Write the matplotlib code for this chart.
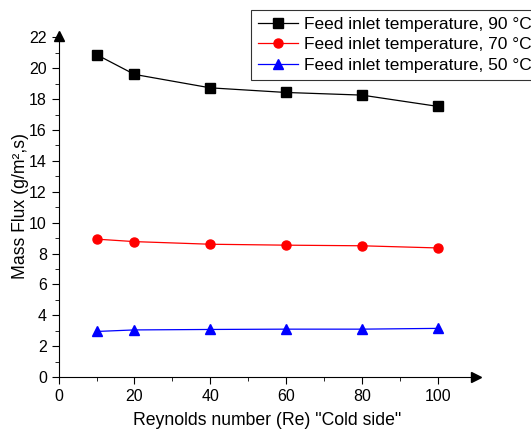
import matplotlib.pyplot as plt

plt.rcParams['font.family'] = ['Liberation Sans', 'DejaVu Sans']

# data
re_cold = [10, 20, 40, 60, 80, 100]
flux_90 = [20.88, 19.6, 18.73, 18.43, 18.26, 17.53]
flux_70 = [8.93, 8.77, 8.6, 8.54, 8.5, 8.36]
flux_50 = [2.95, 3.05, 3.08, 3.1, 3.1, 3.15]
labels = ['Feed inlet temperature, 90 \u00b0C',
          'Feed inlet temperature, 70 \u00b0C',
          'Feed inlet temperature, 50 \u00b0C']

fig = plt.figure(figsize=(5.31, 4.33), dpi=100)
ax = fig.add_axes([0.1105, 0.1293, 0.785, 0.788])

ax.plot(re_cold, flux_90, color='black', marker='s', ms=6.5, lw=0.9, label=labels[0])
ax.plot(re_cold, flux_70, color='red', marker='o', ms=6.5, lw=0.9, label=labels[1])
ax.plot(re_cold, flux_50, color='blue', marker='^', ms=7.5, lw=0.9, label=labels[2])

ax.set_xlim(0, 110)
ax.set_ylim(0, 22.1)
ax.set_xticks([0, 20, 40, 60, 80, 100])
ax.set_xticks(range(10, 110, 20), minor=True)
ax.set_yticks(range(0, 23, 2))
ax.set_yticks(range(1, 22, 2), minor=True)
ax.spines['top'].set_visible(False)
ax.spines['right'].set_visible(False)
ax.tick_params(which='major', direction='out', length=5, labelsize=11.5)
ax.tick_params(which='minor', direction='out', length=3)

# axis arrows
ax.plot(1, 0, '>', color='black', ms=7, transform=ax.transAxes, clip_on=False)
ax.plot(0, 1, '^', color='black', ms=7, transform=ax.transAxes, clip_on=False)

ax.set_xlabel('Reynolds number (Re) "Cold side"', fontsize=12.7, labelpad=6)
ax.set_ylabel('Mass Flux (g/m\u00b2,s)', fontsize=12.7, labelpad=0)

leg = fig.legend(loc='upper left', bbox_to_anchor=(0.473, 0.977), fontsize=12.5,
                 frameon=True, fancybox=False, edgecolor='black', borderaxespad=0,
                 handlelength=2.3, handletextpad=0.35, labelspacing=0.3,
                 borderpad=0.4)
leg.get_frame().set_linewidth(0.8)

fig.savefig('out.png', dpi=100)
